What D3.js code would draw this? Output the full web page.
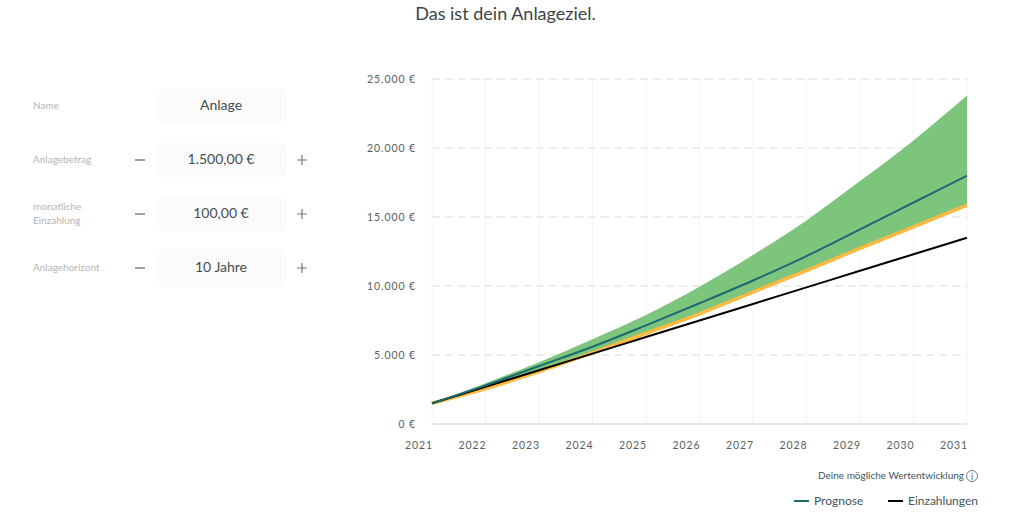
<!DOCTYPE html>
<html lang="de">
<head>
<meta charset="utf-8">
<script src="https://cdn.jsdelivr.net/npm/d3@7"></script>
<style>
html, body { margin: 0; padding: 0; background: #fff; }
svg { display: block; font-family: Lato, sans-serif; }
</style>
</head>
<body>
<svg id="chart" width="1012" height="523"></svg>
<script>
const years = [2021, 2022, 2023, 2024, 2025, 2026, 2027, 2028, 2029, 2030, 2031];
const yTicks = [0, 5000, 10000, 15000, 20000, 25000];
const upper = [1500, 2950, 4480, 6150, 7900, 9950, 12250, 14750, 17600, 20550, 23800];
const lower = [1500, 2560, 3800, 5150, 6560, 7980, 9560, 11120, 12730, 14280, 15850];
const prognose = [1500, 2800, 4200, 5600, 7150, 8750, 10400, 12170, 14100, 16050, 18000];
const einzahlungen = [1500, 2700, 3900, 5100, 6300, 7500, 8700, 9900, 11100, 12300, 13500];

const formRows = [
    {label: ["Name"], value: "Anlage", stepper: false},
    {label: ["Anlagebetrag"], value: "1.500,00 €", stepper: true},
    {label: ["monatliche", "Einzahlung"], value: "100,00 €", stepper: true},
    {label: ["Anlagehorizont"], value: "10 Jahre", stepper: true}
];
const legendItems = [
    {name: "Prognose", color: "#1b6b70", x: 794},
    {name: "Einzahlungen", color: "#000", x: 888}
];

const svg = d3.select("#chart");
const margin = {left: 432, right: 967, top: 79, bottom: 424};

const x = d3.scaleLinear().domain([2021, 2031]).range([margin.left, margin.right]);
const y = d3.scaleLinear().domain([0, 25000]).range([margin.bottom, margin.top]);
const euro = d3.formatLocale({decimal: ",", thousands: ".", grouping: [3], currency: ["", " €"]}).format("$,");

// title
svg.append("text")
    .attr("x", 505.5).attr("y", 20)
    .attr("text-anchor", "middle")
    .attr("font-size", 18)
    .attr("fill", "#3c4448")
    .text("Das ist dein Anlageziel.");

// faint hatch behind the input fields
const pattern = svg.append("defs").append("pattern")
    .attr("id", "hatch")
    .attr("width", 2).attr("height", 2)
    .attr("patternUnits", "userSpaceOnUse");
pattern.append("rect").attr("width", 2).attr("height", 2).attr("fill", "#fff");
pattern.append("rect").attr("width", 1).attr("height", 2).attr("fill", "#f8f8f8");

// input form on the left
const rows = svg.append("g").selectAll("g")
    .data(formRows)
    .join("g")
    .attr("transform", (d, i) => "translate(0," + (106 + i * 54) + ")");

rows.append("rect")
    .attr("x", 157).attr("y", -17)
    .attr("width", 128).attr("height", 34)
    .attr("rx", 4)
    .attr("fill", "url(#hatch)");

rows.append("text")
    .attr("x", 221).attr("y", 3.5)
    .attr("text-anchor", "middle")
    .attr("font-size", 14)
    .attr("fill", "#454c50")
    .text(d => d.value);

rows.each(function (d) {
    const label = d3.select(this).append("text")
        .attr("font-size", 10)
        .attr("fill", "#b5b5b5");
    d.label.forEach((line, i) => {
        label.append("tspan")
            .attr("x", 33)
            .attr("y", 3 + (i - (d.label.length - 1) / 2) * 14)
            .text(line);
    });
});

const steppers = rows.filter(d => d.stepper);
steppers.append("path")
    .attr("d", "M135,0H145")
    .attr("stroke", "#777").attr("stroke-width", 1.4);
steppers.append("path")
    .attr("d", "M297,0H307M302,-5V5")
    .attr("stroke", "#777").attr("stroke-width", 1.2);

// grid
svg.append("g").selectAll("line")
    .data(years)
    .join("line")
    .attr("x1", d => x(d)).attr("x2", d => x(d))
    .attr("y1", margin.top).attr("y2", margin.bottom)
    .attr("stroke", "#f3f4f5");

svg.append("g").selectAll("line")
    .data(yTicks.slice(1))
    .join("line")
    .attr("x1", margin.left).attr("x2", margin.right)
    .attr("y1", d => y(d)).attr("y2", d => y(d))
    .attr("stroke", "#dcdcdc")
    .attr("stroke-dasharray", "8 5");

svg.append("line")
    .attr("x1", margin.left).attr("x2", margin.right)
    .attr("y1", y(0)).attr("y2", y(0))
    .attr("stroke", "#c5d3e8");

// series
const area = d3.area()
    .curve(d3.curveMonotoneX)
    .x((d, i) => x(years[i]))
    .y0((d, i) => y(lower[i]))
    .y1(d => y(d));
const line = d3.line()
    .curve(d3.curveMonotoneX)
    .x((d, i) => x(years[i]))
    .y(d => y(d));

svg.append("path")
    .attr("d", area(upper))
    .attr("fill", "#7dc47d");

svg.append("path")
    .attr("d", line(lower))
    .attr("fill", "none")
    .attr("stroke", "#fdb940")
    .attr("stroke-width", 3.5);

svg.append("path")
    .attr("d", line(einzahlungen))
    .attr("fill", "none")
    .attr("stroke", "#000")
    .attr("stroke-width", 2);

svg.append("path")
    .attr("d", line(prognose))
    .attr("fill", "none")
    .attr("stroke", "#1b6b70")
    .attr("stroke-width", 2);

// axis labels
svg.append("g").selectAll("text")
    .data(yTicks)
    .join("text")
    .attr("x", 416).attr("y", d => y(d) + 4)
    .attr("text-anchor", "end")
    .attr("font-size", 10.5)
    .attr("letter-spacing", 0.9)
    .attr("fill", "#5a5e61")
    .text(d => euro(d));

svg.append("g").selectAll("text")
    .data(years)
    .join("text")
    .attr("x", d => x(d) - 13).attr("y", 449)
    .attr("text-anchor", "middle")
    .attr("font-size", 10.5)
    .attr("letter-spacing", 0.9)
    .attr("fill", "#5a5e61")
    .text(d => d);

// caption and legend
svg.append("text")
    .attr("x", 964).attr("y", 479)
    .attr("text-anchor", "end")
    .attr("font-size", 10)
    .attr("fill", "#3f5560")
    .text("Deine mögliche Wertentwicklung");

const info = svg.append("g").attr("transform", "translate(972,476)");
info.append("circle").attr("r", 5.5).attr("fill", "none").attr("stroke", "#777");
info.append("text")
    .attr("y", 3.5).attr("text-anchor", "middle")
    .attr("font-size", 9).attr("fill", "#555")
    .text("i");

const legend = svg.append("g").selectAll("g")
    .data(legendItems)
    .join("g")
    .attr("transform", d => "translate(" + d.x + ",501)");
legend.append("line")
    .attr("x2", 15)
    .attr("stroke", d => d.color)
    .attr("stroke-width", 2);
legend.append("text")
    .attr("x", 20).attr("y", 4)
    .attr("font-size", 12)
    .attr("fill", "#3f5560")
    .text(d => d.name);
</script>
</body>
</html>
